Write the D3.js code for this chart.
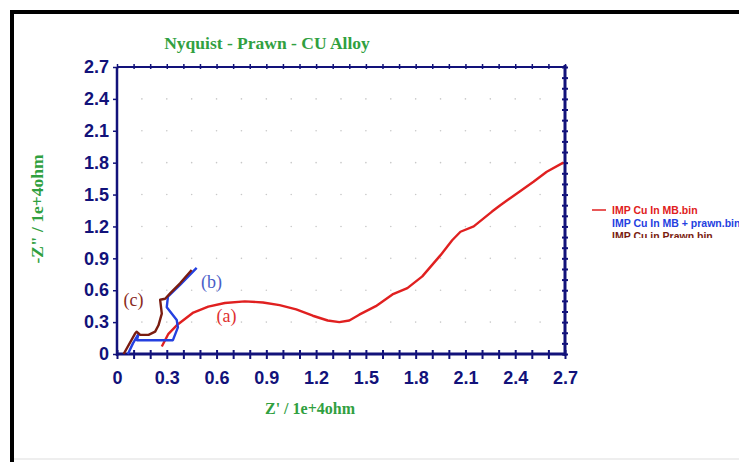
<!DOCTYPE html>
<html>
<head>
<meta charset="utf-8">
<script src="https://cdn.jsdelivr.net/npm/d3@7"></script>
<style>
  body { margin: 0; background: #fff; }
  svg { display: block; }
</style>
</head>
<body>
<svg id="chart" width="739" height="462"></svg>
<script>
// Z' (1e4 ohm) and -Z" (1e4 ohm)
const seriesA = [
    [0.27, 0.07], [0.31, 0.19], [0.36, 0.27], [0.46, 0.39], [0.55, 0.445],
    [0.65, 0.48], [0.77, 0.495], [0.88, 0.485], [0.98, 0.46], [1.08, 0.42],
    [1.18, 0.36], [1.27, 0.315], [1.34, 0.3], [1.4, 0.315], [1.46, 0.37],
    [1.56, 0.45], [1.66, 0.56], [1.75, 0.62], [1.84, 0.73], [1.95, 0.93],
    [2.02, 1.07], [2.07, 1.15], [2.15, 1.2], [2.26, 1.34], [2.31, 1.4],
    [2.41, 1.51], [2.51, 1.62], [2.59, 1.715], [2.69, 1.8]
];
const seriesB = [
    [0.066, 0], [0.096, 0.1], [0.13, 0.19], [0.12, 0.13], [0.337, 0.13],
    [0.367, 0.25], [0.36, 0.32], [0.3, 0.44], [0.307, 0.54], [0.38, 0.65],
    [0.48, 0.81]
];
const seriesC = [
    [0.04, 0], [0.108, 0.19], [0.118, 0.21], [0.14, 0.18], [0.19, 0.18],
    [0.23, 0.21], [0.25, 0.27], [0.27, 0.38], [0.26, 0.51], [0.29, 0.52],
    [0.32, 0.57], [0.38, 0.665], [0.45, 0.79]
];
const tickValues = [0, 0.3, 0.6, 0.9, 1.2, 1.5, 1.8, 2.1, 2.4, 2.7];
const legendNames = ["IMP Cu In MB.bin", "IMP Cu In MB + prawn.bin", "IMP Cu in Prawn.bin"];
const seriesLabels = ["(a)", "(b)", "(c)"];
const colors = ["#e02020", "#2440e0", "#7a1c10"];
const labelColors = ["#e03030", "#4a5ec8", "#8a2a20"];

const svg = d3.select('#chart');
const navy = '#12127a';
const green = '#30a040';

// outer frame
svg.append('line').attr('x1', 12).attr('y1', 12).attr('x2', 739).attr('y2', 12)
    .attr('stroke', '#000').attr('stroke-width', 4);
svg.append('line').attr('x1', 12).attr('y1', 10).attr('x2', 12).attr('y2', 462)
    .attr('stroke', '#000').attr('stroke-width', 4);
svg.append('line').attr('x1', 14).attr('y1', 459).attr('x2', 739).attr('y2', 459)
    .attr('stroke', '#ddd').attr('stroke-width', 1);

const x = d3.scaleLinear().domain([0, 2.7]).range([117, 565]);
const y = d3.scaleLinear().domain([0, 2.7]).range([354, 67]);

// faint dotted grid
const gridPts = [];
d3.range(0.15, 2.7, 0.15).forEach(gx => {
    d3.range(0.3, 2.7, 0.3).forEach(gy => gridPts.push([gx, gy]));
});
svg.append('g').selectAll('circle').data(gridPts).enter().append('circle')
    .attr('cx', d => x(d[0])).attr('cy', d => y(d[1])).attr('r', 0.8)
    .attr('fill', '#c8c8c8');

// axes
const minor = d3.range(0, 2.71, 0.1);
svg.append('g').attr('transform', 'translate(0,354)')
    .call(d3.axisBottom(x).tickValues(minor).tickSize(5).tickFormat(''))
    .call(g => g.select('.domain').remove())
    .call(g => g.selectAll('line').attr('stroke', navy).attr('stroke-width', 2).attr('y1', -4));
svg.append('g').attr('transform', 'translate(0,67)')
    .call(d3.axisTop(x).tickValues(minor).tickSize(3).tickFormat(''))
    .call(g => g.select('.domain').remove())
    .call(g => g.selectAll('line').attr('stroke', navy).attr('stroke-width', 1.5).attr('y1', 2));
svg.append('g').attr('transform', 'translate(565,0)')
    .call(d3.axisRight(y).tickValues(minor).tickSize(3).tickFormat(''))
    .call(g => g.select('.domain').remove())
    .call(g => g.selectAll('line').attr('stroke', navy).attr('stroke-width', 2).attr('x1', -3));

const fmt = d => d === 0 ? '0' : d3.format('.1f')(d);
const xAxis = svg.append('g').attr('transform', 'translate(0,354)')
    .call(d3.axisBottom(x).tickValues(tickValues).tickSize(0).tickPadding(17).tickFormat(fmt));
xAxis.select('.domain').remove();
xAxis.selectAll('text').attr('fill', navy).attr('font-family', 'Liberation Sans, Arial')
    .attr('font-weight', 'bold').attr('font-size', 18);

const yAxis = svg.append('g').attr('transform', 'translate(117,0)')
    .call(d3.axisLeft(y).tickValues(tickValues).tickSize(4).tickPadding(4).tickFormat(fmt));
yAxis.select('.domain').remove();
yAxis.selectAll('line').attr('stroke', navy).attr('stroke-width', 1.5);
yAxis.selectAll('text').attr('fill', navy).attr('font-family', 'Liberation Sans, Arial')
    .attr('font-weight', 'bold').attr('font-size', 18);

// frame lines of the plot
svg.append('line').attr('x1', 117).attr('y1', 67).attr('x2', 565).attr('y2', 67)
    .attr('stroke', navy).attr('stroke-width', 2);
svg.append('line').attr('x1', 117).attr('y1', 354).attr('x2', 565).attr('y2', 354)
    .attr('stroke', navy).attr('stroke-width', 3);
svg.append('line').attr('x1', 117).attr('y1', 67).attr('x2', 117).attr('y2', 356)
    .attr('stroke', navy).attr('stroke-width', 2.5);
svg.append('line').attr('x1', 565).attr('y1', 65).attr('x2', 565).attr('y2', 356)
    .attr('stroke', navy).attr('stroke-width', 3);

// curves
const line = d3.line().x(d => x(d[0])).y(d => y(d[1])).curve(d3.curveLinear);
[seriesA, seriesB, seriesC].forEach((s, i) => {
    svg.append('path').datum(s).attr('d', line)
        .attr('fill', 'none').attr('stroke', colors[i]).attr('stroke-width', 2.4)
        .attr('stroke-linejoin', 'round');
});

// curve labels
const labelPos = [[0.66, 0.3], [0.57, 0.62], [0.1, 0.45]];
seriesLabels.forEach((t, i) => {
    svg.append('text').attr('x', x(labelPos[i][0])).attr('y', y(labelPos[i][1]))
        .attr('text-anchor', 'middle').attr('font-family', 'Liberation Serif, Times New Roman')
        .attr('font-size', 18).attr('fill', labelColors[i]).text(t);
});

// titles
svg.append('text').attr('x', 267).attr('y', 49).attr('text-anchor', 'middle')
    .attr('font-family', 'Liberation Serif, Times New Roman').attr('font-weight', 'bold')
    .attr('font-size', 17.5).attr('fill', green).text('Nyquist - Prawn - CU Alloy');
svg.append('text').attr('x', 310).attr('y', 414).attr('text-anchor', 'middle')
    .attr('font-family', 'Liberation Serif, Times New Roman').attr('font-weight', 'bold')
    .attr('font-size', 16).attr('fill', green).text("Z' / 1e+4ohm");
svg.append('text').attr('transform', 'translate(43,209) rotate(-90)').attr('text-anchor', 'middle')
    .attr('font-family', 'Liberation Serif, Times New Roman').attr('font-weight', 'bold')
    .attr('font-size', 17.5).attr('fill', green).text('-Z" / 1e+4ohm');

// legend, last line clipped as in the source
svg.append('clipPath').attr('id', 'legclip').append('rect')
    .attr('x', 580).attr('y', 195).attr('width', 159).attr('height', 43);
const legend = svg.append('g').attr('clip-path', 'url(#legclip)');
legend.append('line').attr('x1', 592).attr('x2', 606).attr('y1', 210).attr('y2', 210)
    .attr('stroke', colors[0]).attr('stroke-width', 1.5);
legendNames.forEach((n, i) => {
    legend.append('text').attr('x', 612).attr('y', 214 + i * 13)
        .attr('font-family', 'Liberation Sans, Arial').attr('font-weight', 'bold')
        .attr('font-size', 10.5).attr('fill', colors[i]).text(n);
});
</script>
</body>
</html>
